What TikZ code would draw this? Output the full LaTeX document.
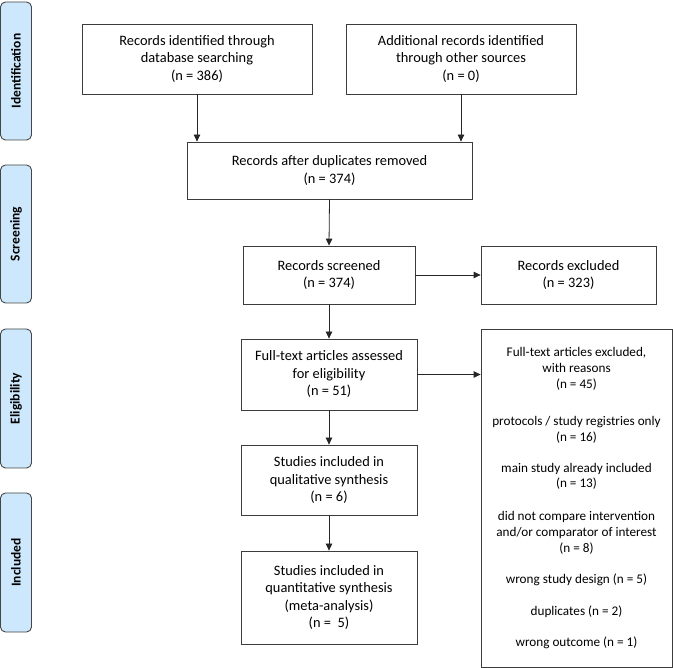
\documentclass[tikz,border=0pt]{standalone}
\usepackage{fontspec}
\setmainfont{Carlito}
\usetikzlibrary{arrows.meta}
\definecolor{phasefill}{RGB}{205,232,252}
\definecolor{phaseline}{RGB}{70,70,70}
\definecolor{boxline}{RGB}{60,60,60}
\begin{document}
\begin{tikzpicture}[x=1pt,y=-1pt,
  phase/.style={draw=phaseline,fill=phasefill,rounded corners=5pt,line width=0.9pt,
    minimum width=31pt,inner sep=0pt,rotate=90,font=\fontsize{13.5}{16}\selectfont\bfseries},
  flowbox/.style={draw=boxline,line width=0.8pt,align=center,inner sep=2pt,
    font=\fontsize{14.4}{17.5}\selectfont},
  reasonbox/.style={draw=boxline,line width=0.8pt,align=center,inner sep=2pt,
    font=\fontsize{13.2}{15.7}\selectfont},
  flow/.style={-{Triangle[length=7pt,width=6.5pt]},line width=0.8pt,draw=black!85}
]
\useasboundingbox (0,0) rectangle (673,668);

% phase labels
\node[phase,minimum width=138pt,minimum height=31pt] (pid) at (16,71) {Identification};
\node[phase,minimum width=138pt,minimum height=31pt] (psc) at (16,234) {Screening};
\node[phase,minimum width=139pt,minimum height=31pt] (pel) at (16,398.5) {Eligibility};
\node[phase,minimum width=139pt,minimum height=31pt] (pin) at (16,562.5) {Included};

% flow boxes
\node[flowbox,minimum width=230pt,minimum height=70pt] (db) at (197,59)
  {Records identified through\\database searching\\(n = 386)};
\node[flowbox,minimum width=230pt,minimum height=70pt] (other) at (461,59)
  {Additional records identified\\through other sources\\(n = 0)};
\node[flowbox,minimum width=285pt,minimum height=57pt] (dup) at (329.5,170.5)
  {Records after duplicates removed\\(n = 374)};
\node[flowbox,minimum width=172pt,minimum height=58pt] (scr) at (329,275)
  {Records screened\\(n = 374)};
\node[flowbox,minimum width=175pt,minimum height=58pt] (exc) at (568.5,275)
  {Records excluded\\(n = 323)};
\node[flowbox,minimum width=176pt,minimum height=71pt] (full) at (329,374.5)
  {Full-text articles assessed\\for eligibility\\(n = 51)};
\node[reasonbox,minimum width=191pt,minimum height=338pt] (reas) at (576.5,498)
  {Full-text articles excluded,\\with reasons\\(n = 45)\\[22pt]
   protocols / study registries only\\(n = 16)\\[15pt]
   main study already included\\(n = 13)\\[17pt]
   did not compare intervention\\and/or comparator of interest\\(n = 8)\\[16pt]
   wrong study design (n = 5)\\[16pt]
   duplicates (n = 2)\\[15pt]
   wrong outcome (n = 1)};
\node[flowbox,minimum width=176pt,minimum height=70pt] (qual) at (329,480)
  {Studies included in\\qualitative synthesis\\(n = 6)};
\node[flowbox,minimum width=176pt,minimum height=93pt] (quant) at (329,597.5)
  {Studies included in\\quantitative synthesis\\(meta-analysis)\\(n =\ \ 5)};

% connectors
\draw[flow] (db.south) -- (db.south |- dup.north);
\draw[flow] (other.south) -- (other.south |- dup.north);
\draw[flow] (dup.south) -- (scr.north);
\draw[flow] (scr.east) -- (exc.west);
\draw[flow] (scr.south) -- (full.north);
\draw[flow] (full.east) -- (full.east -| reas.west);
\draw[flow] (full.south) -- (qual.north);
\draw[flow] (qual.south) -- (quant.north);
\end{tikzpicture}
\end{document}
